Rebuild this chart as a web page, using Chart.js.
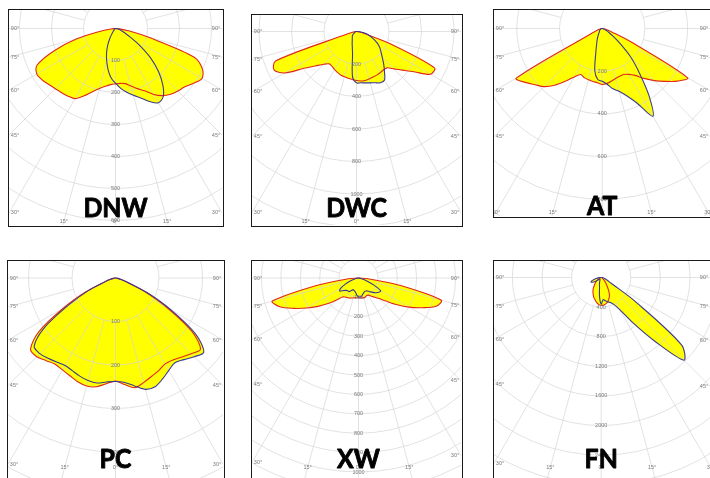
<!DOCTYPE html>
<html lang="en">
<head>
<meta charset="UTF-8">
<script src="https://cdn.jsdelivr.net/npm/chart.js"></script>
<title>Light distribution curves</title>
<style>
  *{margin:0;padding:0;box-sizing:border-box;}
  body{width:710px;height:478px;background:#fff;position:relative;overflow:hidden;}
  .panel{position:absolute;border:1.5px solid #1a1a1a;background:#fff;}
  .panel canvas{display:block;}
</style>
</head>
<body>

<script>
// gamma angles (deg from nadir), shared by every curve
const ANGLES = [-90,-85,-80,-75,-70,-65,-60,-55,-50,-45,-40,-35,-30,-25,-20,-15,-10,-5,0,5,10,15,20,25,30,35,40,45,50,55,60,65,70,75,80,85,90];

// intensities in cd, C0-C180 plane (red) and C90-C270 plane (blue)
const DNW_C0  = [0,15,45,125,205,270,284,280,272,266,262,258,253,232,210,194,183,176,173,172,175,186,200,215,238,256,268,276,283,298,312,300,262,110,40,12,0];
const DNW_C90 = [0,1,2,3,4,4,4,4,5,6,10,18,35,58,82,106,132,155,171,188,202,216,231,252,268,260,230,190,143,92,52,30,20,13,6,2,0];
const DWC_C0  = [0,8,20,60,530,560,510,395,330,285,260,262,270,278,285,289,292,296,302,306,306,302,298,296,292,289,292,325,370,432,526,530,220,50,20,8,0];
const DWC_C90 = [0,2,4,6,8,10,14,20,28,35,40,45,52,62,78,100,140,280,316,317,321,327,336,348,345,300,260,224,197,175,150,120,95,72,45,20,0];
const AT_C0   = [0,5,8,15,25,60,465,440,410,385,347,302,262,238,245,249,252,255,262,258,250,242,238,238,248,268,305,345,385,430,462,150,50,20,8,5,0];
const AT_C90  = [0,2,4,6,8,10,12,14,16,18,22,28,38,55,75,115,200,240,247,262,287,304,335,385,475,380,270,190,110,60,35,20,12,8,5,2,0];
const PC_C0   = [0,2,5,12,28,75,138,215,255,256,248,242,244,248,254,257,254,244,237,246,256,249,241,235,228,230,237,246,255,215,138,75,28,12,5,2,0];
const PC_C90  = [0,2,5,12,26,70,125,200,244,246,241,236,232,235,240,244,245,240,238,241,252,265,266,256,245,238,245,256,265,225,148,82,32,12,5,2,0];
const XW_C0   = [0,60,220,460,432,370,310,255,205,160,128,120,116,114,110,106,103,102,102,103,104,106,104,100,102,115,130,150,185,238,300,362,426,442,220,55,0];
const XW_C90  = [0,5,10,20,45,75,105,118,100,90,86,86,75,66,68,72,78,90,97,98,94,86,80,76,77,82,92,105,118,128,132,90,45,25,12,5,0];
const FN_C0   = [0,3,10,15,25,40,55,75,100,120,150,190,222,255,290,315,345,368,378,372,362,340,305,265,200,135,90,60,40,30,20,15,10,7,5,2,0];
const FN_C90  = [0,20,60,100,140,150,120,80,50,35,30,28,30,40,60,90,130,260,360,300,320,340,360,400,500,750,1120,1580,1420,550,150,90,60,40,20,10,0];

// ring tick labels (cd)
const DNW_RINGS = [100,200,300,400,500,600];
const DWC_RINGS = [200,400,600,800,1000];
const AT_RINGS  = [200,400,600,800];
const PC_RINGS  = [100,200,300,400];
const XW_RINGS  = [100,200,300,400,500,600,700,800,900,1000];
const FN_RINGS  = [400,800,1200,1600,2000,2400];

const ANGLE_TICKS = [90,75,60,45,30,15,0];
const NAMES = ['DNW','DWC','AT','PC','XW','FN'];

// colours
const YELLOW = '#ffff00';
const RED = '#e0281c';
const BLUE = '#3a3a92';
const GRID = '#d6d6d6';

// page layout: outer box [left, top, w, h], pole position, px per cd, text baselines
const LAYOUT = [
  {box:[8,9,216,218],    cx:116,   cy:29,    k:0.32,   title:217, bottom:222},
  {box:[251,14,212,213], cx:357,   cy:32,    k:0.1625, title:217, bottom:222},
  {box:[493,9,219,209],  cx:602.7, cy:29,    k:0.2135, title:215, bottom:213},
  {box:[7,260,218,230],  cx:116,   cy:278.5, k:0.435,  title:468, bottom:468},
  {box:[251,260,212,230],cx:359,   cy:278.5, k:0.194,  title:468, bottom:468},
  {box:[493,260,219,230],cx:601.7, cy:278,   k:0.074,  title:468, bottom:468}
];

const SERIES = [
  [DNW_C0, DNW_C90, DNW_RINGS],
  [DWC_C0, DWC_C90, DWC_RINGS],
  [AT_C0, AT_C90, AT_RINGS],
  [PC_C0, PC_C90, PC_RINGS],
  [XW_C0, XW_C90, XW_RINGS],
  [FN_C0, FN_C90, FN_RINGS]
];

function toXY(vals) {
  return ANGLES.map((g, i) => {
    const r = g * Math.PI / 180;
    return {x: vals[i] * Math.sin(r), y: vals[i] * Math.cos(r)};
  });
}

function drawGrid(chart, opts) {
  const {ctx, chartArea: a, scales: {x, y}} = chart;
  const cx = x.getPixelForValue(0), cy = y.getPixelForValue(0);
  const px = v => Math.abs(x.getPixelForValue(v) - cx);
  const step = opts.rings[1] - opts.rings[0];
  const far = Math.hypot(a.width, a.height) + 20;
  ctx.save();
  ctx.beginPath();
  ctx.rect(a.left, a.top, a.width, a.height);
  ctx.clip();
  ctx.strokeStyle = GRID;
  ctx.lineWidth = 0.7;
  for (let v = step; px(v) < far; v += step) {
    ctx.beginPath();
    ctx.arc(cx, cy, px(v), 0, Math.PI * 2);
    ctx.stroke();
  }
  const r0 = px(step);
  for (let g = 0; g < 360; g += 15) {
    const t = g * Math.PI / 180;
    ctx.beginPath();
    ctx.moveTo(cx + r0 * Math.sin(t), cy + r0 * Math.cos(t));
    ctx.lineTo(cx + far * Math.sin(t), cy + far * Math.cos(t));
    ctx.stroke();
  }
  ctx.restore();
}

function drawLabels(chart, opts) {
  const {ctx, chartArea: a, scales: {x, y}} = chart;
  const cx = x.getPixelForValue(0), cy = y.getPixelForValue(0);
  const px = v => Math.abs(x.getPixelForValue(v) - cx);
  ctx.save();
  ctx.fillStyle = '#7a7a7a';
  ctx.font = '5.5px "Liberation Sans", Arial, sans-serif';
  ctx.textAlign = 'center';
  ctx.textBaseline = 'middle';
  opts.rings.forEach(v => ctx.fillText(String(v), cx, cy + px(v)));

  const by = opts.bottom;
  ANGLE_TICKS.forEach(g => {
    const t = g * Math.PI / 180;
    const txt = g + '°';
    if (g === 0) { ctx.fillText(txt, cx, by); return; }
    const dl = cx - a.left, dr = a.right - cx;
    const yl = g === 90 ? cy : cy + dl / Math.tan(t);
    const yr = g === 90 ? cy : cy + dr / Math.tan(t);
    if (yl < by - 2) ctx.fillText(txt, a.left + 6, yl);
    else ctx.fillText(txt, cx - (by - cy) * Math.tan(t), by);
    if (yr < by - 2) ctx.fillText(txt, a.right - 6, yr);
    else ctx.fillText(txt, cx + (by - cy) * Math.tan(t), by);
  });

  // panel name, heavy like the original bold face
  ctx.fillStyle = '#000';
  ctx.strokeStyle = '#000';
  ctx.lineWidth = 0.9;
  ctx.lineJoin = 'round';
  ctx.font = 'bold 27px Lato, "Open Sans", sans-serif';
  ctx.textBaseline = 'alphabetic';
  ctx.translate(cx, opts.title);
  ctx.scale(0.92, 1);
  ctx.fillText(opts.name, 0, 0);
  ctx.strokeText(opts.name, 0, 0);
  ctx.restore();
}

const polarGrid = {
  id: 'polarGrid',
  beforeDatasetsDraw(chart) { chart.$gridDone = false; },
  beforeDatasetDraw(chart, args, opts) {
    if (chart.$gridDone || !chart.data.datasets[args.index].stroke) return;
    chart.$gridDone = true;
    drawGrid(chart, opts);
  },
  afterDatasetsDraw(chart, args, opts) { drawLabels(chart, opts); }
};

function makePanel(i) {
  const L = LAYOUT[i];
  const [c0, c90, rings] = SERIES[i];
  const [left, top, w, h] = L.box;
  const div = document.createElement('div');
  div.className = 'panel';
  div.style.left = left + 'px';
  div.style.top = top + 'px';
  div.style.width = w + 'px';
  div.style.height = h + 'px';
  const cv = document.createElement('canvas');
  const W = w - 3, H = h - 3;
  cv.width = W; cv.height = H;
  div.appendChild(cv);
  document.body.appendChild(div);

  const lx = L.cx - (left + 1.5), ly = L.cy - (top + 1.5);
  const base = {showLine: true, pointRadius: 0, tension: 0.3, borderCapStyle: 'round', borderJoinStyle: 'round'};
  const p0 = toXY(c0), p90 = toXY(c90);

  new Chart(cv, {
    type: 'line',
    data: {
      datasets: [
        {...base, data: p0, fill: 'shape', backgroundColor: YELLOW, borderColor: 'rgba(0,0,0,0)', borderWidth: 1, order: 2},
        {...base, data: p90, fill: 'shape', backgroundColor: YELLOW, borderColor: 'rgba(0,0,0,0)', borderWidth: 1, order: 2},
        {...base, data: p90, fill: false, borderColor: BLUE, borderWidth: 1.1, order: 1, stroke: true},
        {...base, data: p0, fill: false, borderColor: RED, borderWidth: 1.1, order: 1, stroke: true}
      ]
    },
    options: {
      responsive: false,
      animation: false,
      events: [],
      layout: {padding: 0},
      scales: {
        x: {type: 'linear', display: false, min: -lx / L.k, max: (W - lx) / L.k},
        y: {type: 'linear', display: false, reverse: true, min: -ly / L.k, max: (H - ly) / L.k}
      },
      plugins: {
        legend: {display: false},
        tooltip: {enabled: false},
        polarGrid: {rings: rings, name: NAMES[i], title: L.title - (top + 1.5), bottom: L.bottom - (top + 1.5)}
      }
    },
    plugins: [polarGrid]
  });
}

for (let i = 0; i < NAMES.length; i++) makePanel(i);
</script>
</body>
</html>
